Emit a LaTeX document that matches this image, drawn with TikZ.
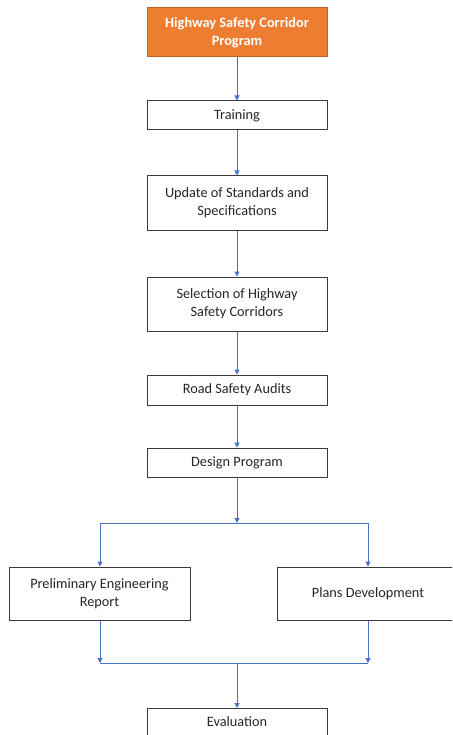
\documentclass[tikz,border=0pt]{standalone}
\usepackage{fontspec}
\setmainfont{Carlito}
\usetikzlibrary{arrows.meta}
\definecolor{orng}{HTML}{ED7D31}
\definecolor{blu}{HTML}{4472C4}
\definecolor{edge}{HTML}{3A3A3A}
\begin{document}
\begin{tikzpicture}[x=1pt,y=-1pt,
  box/.style={draw=edge,line width=1pt,fill=white,inner sep=0pt,align=center,
    font=\fontsize{14.3}{17.7}\selectfont,text=black!85},
  arr/.style={draw=blu,line width=1pt,-{Triangle[length=5pt,width=5pt]}},
  ln/.style={draw=blu,line width=1pt}]
\useasboundingbox (0,0) rectangle (452,735);
\clip (0,0) rectangle (452,735);
\node[box,draw=orng!80!black,fill=orng,text=white,font=\fontsize{14.3}{17.7}\selectfont\bfseries,minimum width=180pt,minimum height=49pt] (hsc) at (237,32.5) {Highway Safety Corridor\\Program};
\node[box,minimum width=180pt,minimum height=29pt] (tr) at (237,115.5) {Training};
\node[box,minimum width=180pt,minimum height=54pt] (up) at (237,203) {Update of Standards and\\Specifications};
\node[box,minimum width=180pt,minimum height=54pt] (sel) at (237,304) {Selection of Highway\\Safety Corridors};
\node[box,minimum width=180pt,minimum height=30pt] (rsa) at (237,390) {Road Safety Audits};
\node[box,minimum width=180pt,minimum height=29pt] (dp) at (237,462.5) {Design Program};
\node[box,minimum width=181pt,minimum height=53pt] (per) at (99.5,593.5) {Preliminary Engineering\\Report};
\node[box,minimum width=182pt,minimum height=53pt] (pd) at (368,593.5) {Plans Development};
\node[box,minimum width=180pt,minimum height=40pt,anchor=north] (ev) at (237,708) {};
\node[font=\fontsize{14.3}{17.7}\selectfont,text=black!85] (evt) at (237,722) {Evaluation};
\coordinate (split) at (237,523);
\coordinate (splitL) at (100,523);
\coordinate (splitR) at (368,523);
\coordinate (mergeL) at (100,663);
\coordinate (mergeR) at (368,663);
\coordinate (merge) at (237,663);
\draw[arr] (hsc) -- (tr);
\draw[arr] (tr) -- (up);
\draw[arr] (up) -- (sel);
\draw[arr] (sel) -- (rsa);
\draw[arr] (rsa) -- (dp);
\draw[arr] (dp) -- (split);
\draw[ln] (splitL) -- (splitR);
\draw[arr] (splitL) -- (splitL |- per.north);
\draw[arr] (splitR) -- (splitR |- pd.north);
\draw[arr] (splitL |- per.south) -- (mergeL);
\draw[arr] (splitR |- pd.south) -- (mergeR);
\draw[ln] (mergeL) -- (mergeR);
\draw[arr] (merge) -- (ev.north);
\end{tikzpicture}
\end{document}
